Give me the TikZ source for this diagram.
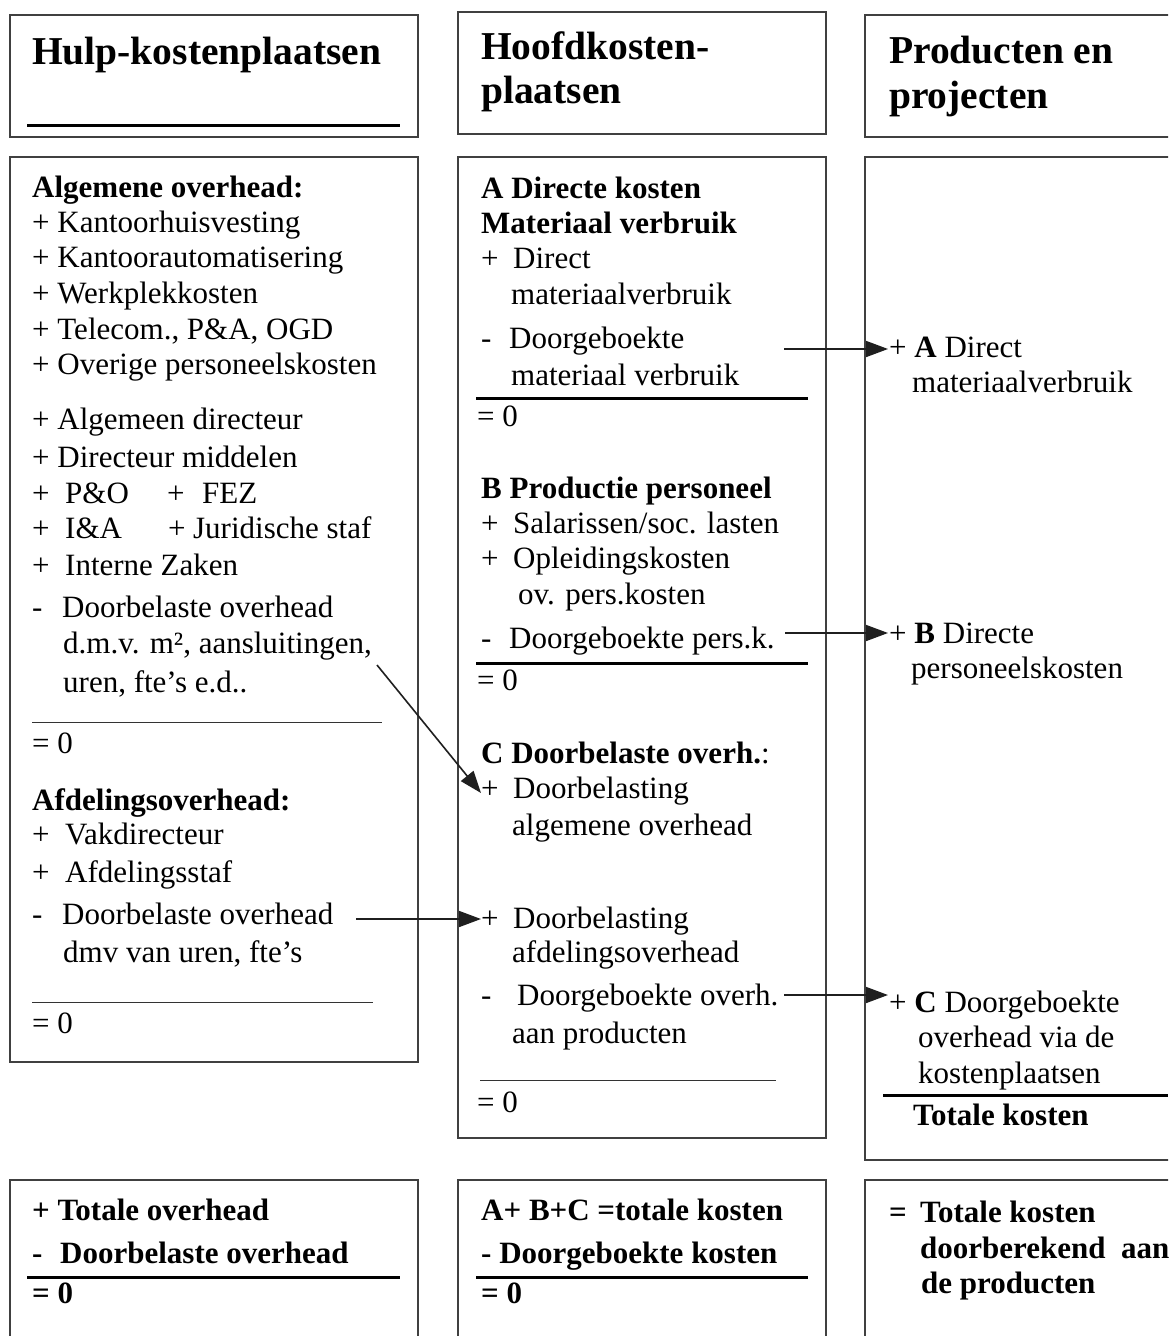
\documentclass[tikz,border=0pt]{standalone}
\usepackage{fontspec}
\setmainfont{Liberation Serif}
\usetikzlibrary{arrows.meta}
\definecolor{boxgray}{gray}{0.25}
\definecolor{arrgray}{gray}{0.12}
\begin{document}
\begin{tikzpicture}[x=1pt,y=-1pt,
  box/.style={draw=boxgray, line width=1.4pt},
  txt/.style={anchor=base west, inner sep=0pt, font=\fontsize{31}{36}\selectfont},
  btxt/.style={anchor=base west, inner sep=0pt, font=\fontsize{31}{36}\selectfont\bfseries},
  ttl/.style={anchor=base west, inner sep=0pt, font=\fontsize{39.5}{45}\selectfont\bfseries},
  thickrule/.style={line width=3pt, black},
  thinrule/.style={line width=1pt, black!80},
  arr/.style={line width=1.6pt, draw=arrgray, -{Triangle[length=22pt,width=16pt]}}]
\useasboundingbox (0,0) rectangle (1168,1336);
\fill[white] (0,0) rectangle (1168,1336);
\clip (0,0) rectangle (1168,1336);

% ---------- boxes ----------
\draw[box] (10,15) rectangle (418,137);
\draw[box] (458,12) rectangle (826,134);
\draw[box] (865,15) rectangle (1190,137);
\draw[box] (10,157) rectangle (418,1062);
\draw[box] (458,157) rectangle (826,1138);
\draw[box] (865,157) rectangle (1190,1160);
\draw[box] (10,1180) rectangle (418,1360);
\draw[box] (458,1180) rectangle (826,1360);
\draw[box] (865,1180) rectangle (1190,1360);

% ---------- titles ----------
\node[ttl] (t1) at (32,64) {Hulp-kostenplaatsen};
\draw[thickrule] (27,125) -- (400,125);
\node[ttl] (t2a) at (481,59) {Hoofdkosten-};
\node[ttl] (t2b) at (481,103) {plaatsen};
\node[ttl] (t3a) at (889,63) {Producten en};
\node[ttl] (t3b) at (889,108) {projecten};

% ---------- left column ----------
\node[btxt] (l1) at (32,197) {Algemene overhead:};
\node[txt] (l2) at (32,232) {+ Kantoorhuisvesting};
\node[txt] (l3) at (32,267) {+ Kantoorautomatisering};
\node[txt] (l4) at (32,303) {+ Werkplekkosten};
\node[txt] (l5) at (32,339) {+ Telecom., P\&A, OGD};
\node[txt] (l6) at (32,374) {+ Overige personeelskosten};
\node[txt] (l7) at (32,429) {+ Algemeen directeur};
\node[txt] (l8) at (32,467) {+ Directeur middelen};
\node[txt] (l9a) at (32,503) {\makebox[33pt][l]{+}P\&O};
\node[txt] (l9b) at (167,503) {\makebox[35pt][l]{+}FEZ};
\node[txt] (l10a) at (32,538) {\makebox[33pt][l]{+}I\&A};
\node[txt] (l10b) at (168,538) {\makebox[25pt][l]{+}Juridische staf};
\node[txt] (l11) at (32,575) {\makebox[33pt][l]{+}Interne Zaken};
\node[txt] (l12) at (32,617) {\makebox[30pt][l]{-}Doorbelaste overhead};
\node[txt] (l13) at (63,653) {d.m.v. m², aansluitingen,};
\node[txt] (l14) at (63,692) {uren, fte’s e.d..};
\draw[thinrule] (32,722) -- (382,722);
\node[txt] (l15) at (32,753) {= 0};
\node[btxt] (l16) at (32,810) {Afdelingsoverhead:};
\node[txt] (l17) at (32,844) {\makebox[33pt][l]{+}Vakdirecteur};
\node[txt] (l18) at (32,882) {\makebox[33pt][l]{+}Afdelingsstaf};
\node[txt] (l19) at (32,924) {\makebox[30pt][l]{-}Doorbelaste overhead};
\node[txt] (l20) at (63,962) {dmv van uren, fte’s};
\draw[thinrule] (32,1002) -- (373,1002);
\node[txt] (l21) at (32,1033) {= 0};

% ---------- middle column ----------
\node[btxt] (m1) at (481,198) {A Directe kosten};
\node[btxt] (m2) at (481,233) {Materiaal verbruik};
\node[txt] (m3) at (481,268) {\makebox[32pt][l]{+}Direct};
\node[txt] (m4) at (511,304) {materiaalverbruik};
\node[txt] (m5) at (481,348) {\makebox[28pt][l]{-}Doorgeboekte};
\node[txt] (m6) at (511,385) {materiaal verbruik};
\draw[thickrule] (476,398) -- (808,398);
\node[txt] (m7) at (477,426) {= 0};
\node[btxt] (m8) at (481,498) {B Productie personeel};
\node[txt] (m9) at (481,533) {\makebox[32pt][l]{+}Salarissen/soc. lasten};
\node[txt] (m10) at (481,568) {\makebox[32pt][l]{+}Opleidingskosten};
\node[txt] (m11) at (518,604) {ov. pers.kosten};
\node[txt] (m12) at (481,648) {\makebox[28pt][l]{-}Doorgeboekte pers.k.};
\draw[thickrule] (476,663) -- (808,663);
\node[txt] (m13) at (477,690) {= 0};
\node[txt] (m14) at (481,763) {\textbf{C Doorbelaste overh.}:};
\node[txt] (m15) at (481,798) {\makebox[32pt][l]{+}Doorbelasting};
\node[txt] (m16) at (512,835) {algemene overhead};
\node[txt] (m17) at (481,928) {\makebox[32pt][l]{+}Doorbelasting};
\node[txt] (m18) at (512,962) {afdelingsoverhead};
\node[txt] (m19) at (481,1005) {\makebox[36pt][l]{-}Doorgeboekte overh.};
\node[txt] (m20) at (512,1043) {aan producten};
\draw[thinrule] (480,1080) -- (776,1080);
\node[txt] (m21) at (477,1112) {= 0};

% ---------- right column ----------
\node[txt] (r1) at (889,357) {+ \textbf{A} Direct};
\node[txt] (r2) at (912,392) {materiaalverbruik};
\node[txt] (r3) at (889,643) {+ \textbf{B} Directe};
\node[txt] (r4) at (911,678) {personeelskosten};
\node[txt] (r5) at (889,1012) {+ \textbf{C} Doorgeboekte};
\node[txt] (r6) at (918,1047) {overhead via de};
\node[txt] (r7) at (918,1083) {kostenplaatsen};
\draw[thickrule] (883,1095) -- (1168,1095);
\node[btxt] (r8) at (913,1125) {Totale kosten};

% ---------- bottom row ----------
\node[btxt] (b1) at (32,1220) {+ Totale overhead};
\node[btxt] (b2) at (32,1263) {\makebox[28pt][l]{-}Doorbelaste overhead};
\draw[thickrule] (27,1277) -- (400,1277);
\node[btxt] (b3) at (32,1303) {= 0};
\node[btxt] (b4) at (481,1220) {A+ B+C =totale kosten};
\node[btxt] (b5) at (481,1263) {- Doorgeboekte kosten};
\draw[thickrule] (476,1277) -- (808,1277);
\node[btxt] (b6) at (481,1303) {= 0};
\node[btxt] (b7) at (889,1222) {\makebox[31pt][l]{=}Totale kosten};
\node[btxt] (b8) at (920,1258) {doorberekend\ \ aan};
\node[btxt] (b9) at (921,1293) {de producten};

% ---------- connectors ----------
\coordinate (aS) at (784,349);
\coordinate (aE) at (888,349);
\coordinate (bS) at (785,633);
\coordinate (bE) at (888,633);
\coordinate (dS) at (377,665);
\coordinate (dE) at (481,793);
\coordinate (fS) at (356,919);
\coordinate (fE) at (481,919);
\coordinate (cS) at (784,995);
\coordinate (cE) at (888,995);
\draw[arr] (aS) -- (aE);
\draw[arr] (bS) -- (bE);
\draw[arr] (dS) -- (dE);
\draw[arr] (fS) -- (fE);
\draw[arr] (cS) -- (cE);
\end{tikzpicture}
\end{document}
